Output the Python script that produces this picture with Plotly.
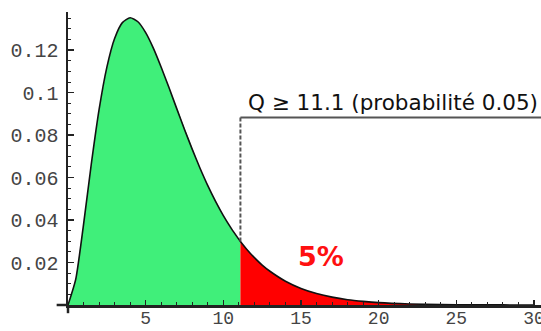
import plotly.graph_objects as go

# Density curve (acceptance region, then 5% tail)
x_accept = [0, 0.5, 1, 1.5, 2, 2.5, 3, 3.5, 4, 4.5, 5, 5.5, 6, 6.5, 7, 7.5, 8, 8.5, 9, 9.5, 10, 10.5, 11, 11.1]
y_accept = [0, 0.0122, 0.0379, 0.0664, 0.0920, 0.1119, 0.1255, 0.1330, 0.1353, 0.1334, 0.1283, 0.1209,
            0.1120, 0.1024, 0.0925, 0.0827, 0.0733, 0.0644, 0.0562, 0.0488, 0.0421, 0.0362, 0.0309, 0.0299]
x_tail = [11.1, 11.5, 12, 12.5, 13, 14, 15, 16, 17, 18, 19, 20, 22, 24, 26, 28, 30]
y_tail = [0.0299, 0.0263, 0.0223, 0.0188, 0.0159, 0.0112, 0.0078, 0.0054, 0.0037, 0.0025, 0.0017,
          0.0011, 0.0005, 0.0002, 0.0001, 0.00004, 0.00002]

q_value = 11.1
q_level = 0.0883
q_label = "Q ≥ 11.1 (probabilité 0.05)"
tail_label = "5%"

x_ticks = [5, 10, 15, 20, 25, 30]
x_ticktext = ["5", "10", "15", "20", "25", "30"]
y_ticks = [0.02, 0.04, 0.06, 0.08, 0.1, 0.12]
y_ticktext = ["0.02", "0.04", "0.06", "0.08", "0.1", "0.12"]

fig = go.Figure()
fig.add_trace(go.Scatter(x=x_accept, y=y_accept, mode="lines", fill="tozeroy",
                         fillcolor="#40EF7A", line=dict(color="rgba(0,0,0,0)", width=0),
                         hoverinfo="skip", showlegend=False))
fig.add_trace(go.Scatter(x=x_tail, y=y_tail, mode="lines", fill="tozeroy",
                         fillcolor="#FF0000", line=dict(color="rgba(0,0,0,0)", width=0),
                         hoverinfo="skip", showlegend=False))
fig.add_trace(go.Scatter(x=x_accept + x_tail[1:], y=y_accept + y_tail[1:], mode="lines",
                         line=dict(color="#111111", width=1.6, shape="spline", smoothing=0.6),
                         hoverinfo="skip", showlegend=False))

# Quantile marker
fig.add_shape(type="line", x0=q_value, x1=q_value, y0=y_accept[-1], y1=q_level,
              line=dict(color="#555555", width=2, dash="4px,2px"), layer="above")
fig.add_shape(type="line", x0=q_value, x1=31, y0=q_level, y1=q_level,
              line=dict(color="#555555", width=2), layer="above")
fig.add_annotation(x=q_value + 0.35, y=q_level + 0.0072, text=q_label, showarrow=False,
                   xanchor="left", yanchor="middle",
                   font=dict(family="DejaVu Sans", size=21.5, color="#111111"))
fig.add_annotation(x=16.3, y=0.0228, text="<b>" + tail_label + "</b>", showarrow=False,
                   xanchor="center", yanchor="middle",
                   font=dict(family="DejaVu Sans", size=27, color="#FF1010"))

# axis extensions (Mathematica-style crossing axes)
fig.add_shape(type="line", xref="paper", yref="paper", x0=-0.024, x1=0, y0=0, y1=0,
              line=dict(color="#222222", width=2.5))
fig.add_shape(type="line", xref="paper", yref="paper", x0=0, x1=0, y0=-0.028, y1=0,
              line=dict(color="#222222", width=2.5))

fig.update_xaxes(range=[0, 30.45], showgrid=False, zeroline=False, showline=True, automargin=False,
                 linecolor="#222222", linewidth=2.5, ticks="inside", ticklen=5, tickwidth=1.5,
                 tickcolor="#222222", tickvals=x_ticks, ticktext=x_ticktext,
                 minor=dict(dtick=1, tick0=0, ticks="inside", ticklen=3, tickcolor="#222222", tickwidth=1),
                 tickfont=dict(family="Liberation Mono", size=18, color="#444444"),
                 ticklabelstandoff=-5, ticklabeloverflow="allow")
fig.update_yaxes(range=[0, 0.138], showgrid=False, zeroline=False, showline=True, automargin=False,
                 linecolor="#222222", linewidth=2.5, ticks="inside", ticklen=6, tickwidth=1.5,
                 tickcolor="#222222", tickvals=y_ticks, ticktext=y_ticktext,
                 minor=dict(dtick=0.005, tick0=0, ticks="inside", ticklen=3, tickcolor="#222222", tickwidth=1),
                 tickfont=dict(family="Liberation Mono", size=20, color="#444444"),
                 ticklabelstandoff=3, ticklabeloverflow="allow")

fig.update_layout(width=541, height=331, margin=dict(l=68, r=0, t=12, b=26),
                  plot_bgcolor="white", paper_bgcolor="white", showlegend=False)

fig.write_html("out.html", config={"displayModeBar": False, "staticPlot": True},
               post_script="document.body.style.margin='0';document.body.style.overflow='hidden';")
